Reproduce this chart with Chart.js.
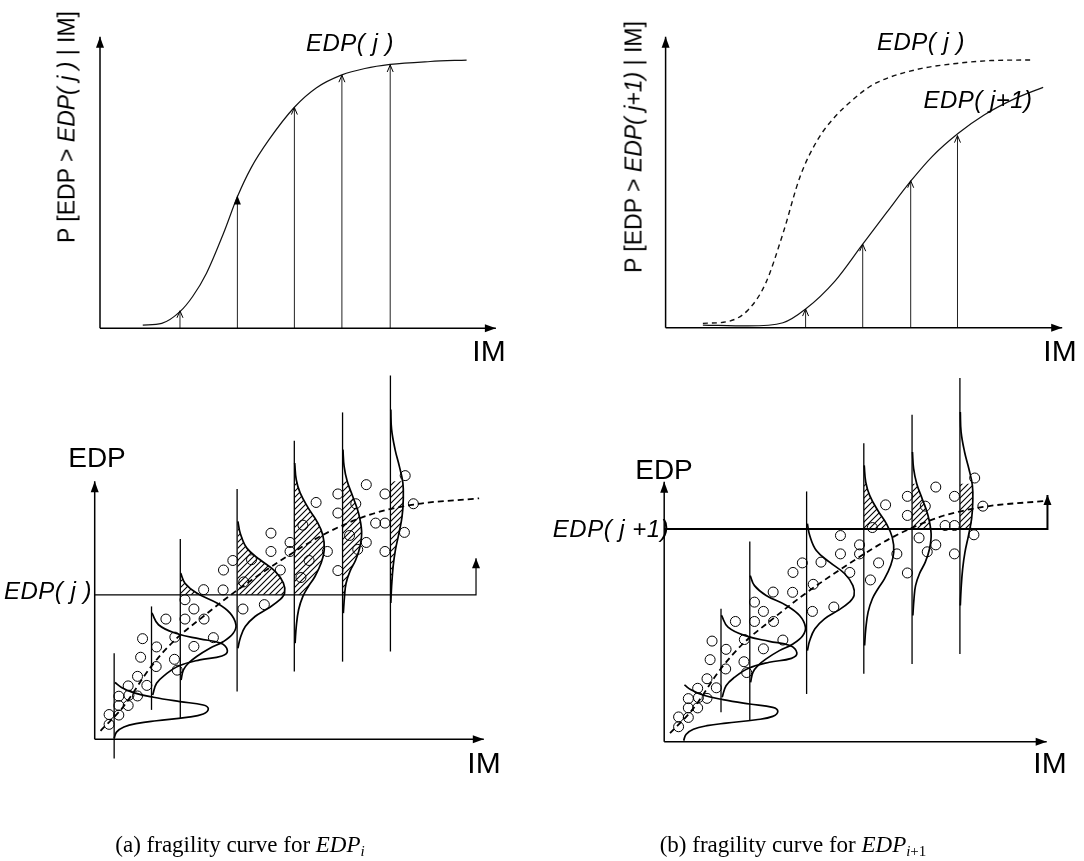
<!DOCTYPE html>
<html>
<head>
<meta charset="utf-8">
<script src="https://cdn.jsdelivr.net/npm/chart.js@4.4.1/dist/chart.umd.min.js"></script>
<style>
  body { margin: 0; width: 1084px; height: 861px; position: relative; overflow: hidden; background: #fff;
         font-family: "Liberation Sans", Arial, sans-serif; color: #000; }
  canvas.layer { position: absolute; left: 0; top: 0; }
  .lbl { position: absolute; white-space: nowrap; transform: translate(-50%, -50%); }
  .rot { transform: translate(-50%, -50%) rotate(-90deg); font-size: 23px; }
  .im { font-size: 30px; }
  .edp { font-size: 28px; }
  .it { font-style: italic; font-size: 24px; letter-spacing: 0.5px; }
  .cap { font-family: "Liberation Serif", "Times New Roman", serif; font-size: 23px; }
  .cap sub { font-size: 15px; vertical-align: -4px; }
</style>
</head>
<body>
<canvas id="topA" class="layer" width="1084" height="861"></canvas>
<canvas id="topB" class="layer" width="1084" height="861"></canvas>
<canvas id="botA" class="layer" width="1084" height="861"></canvas>
<canvas id="botB" class="layer" width="1084" height="861"></canvas>

<div class="lbl rot" style="left:67px;top:127px">P [EDP &gt; <i>EDP( j )</i> | IM]</div>
<div class="lbl it" style="left:350px;top:43px">EDP( j )</div>
<div class="lbl im" style="left:489px;top:351px">IM</div>

<div class="lbl rot" style="left:634px;top:147px">P [EDP &gt; <i>EDP( j+1)</i> | IM]</div>
<div class="lbl it" style="left:921px;top:42px">EDP( j )</div>
<div class="lbl it" style="left:978px;top:100px">EDP( j+1)</div>
<div class="lbl im" style="left:1060px;top:351px">IM</div>

<div class="lbl edp" style="left:97px;top:458px">EDP</div>
<div class="lbl it" style="left:48px;top:591px">EDP( j )</div>
<div class="lbl im" style="left:484px;top:763px">IM</div>

<div class="lbl edp" style="left:664px;top:470px">EDP</div>
<div class="lbl it" style="left:611px;top:529px">EDP( j +1)</div>
<div class="lbl im" style="left:1050px;top:763px">IM</div>

<div class="lbl cap" style="left:240px;top:846px">(a) fragility curve for <i>EDP</i><sub><i>i</i></sub></div>
<div class="lbl cap" style="left:793px;top:846px">(b) fragility curve for <i>EDP</i><sub><i>i</i>+1</sub></div>

<script>
// ---------- top row: fragility curves, P[EDP > edp | IM]
const imCurveA = [1.08, 1.56, 2.02, 2.34, 2.69, 3.12, 3.47, 3.82, 4.26, 4.91, 5.47, 6.11, 6.69, 7.33, 8.34, 9.26];
const pCurveA  = [0.011, 0.017, 0.057, 0.109, 0.189, 0.326, 0.451, 0.551, 0.645, 0.758, 0.825, 0.869, 0.891, 0.905, 0.915, 0.92];
const imArrowA = [2.02, 3.47, 4.91, 6.11, 7.33];
const pArrowA  = [0.06, 0.455, 0.757, 0.868, 0.903];

const imCurveBj  = [0.94, 1.56, 2.08, 2.52, 2.96, 3.39, 3.83, 4.27, 4.71, 5.14, 5.58, 6.46, 7.33, 8.21, 9.26];
const pCurveBj   = [0.015, 0.021, 0.061, 0.152, 0.324, 0.519, 0.645, 0.725, 0.782, 0.828, 0.857, 0.891, 0.908, 0.918, 0.92];
const imCurveBj1 = [0.94, 2.08, 2.96, 3.53, 4.27, 4.97, 5.58, 6.19, 6.72, 7.38, 8.03, 8.82, 9.52];
const pCurveBj1  = [0.009, 0.006, 0.017, 0.064, 0.16, 0.287, 0.397, 0.505, 0.588, 0.668, 0.731, 0.788, 0.826];
const imArrowB = [3.53, 4.97, 6.18, 7.36];
const pArrowB  = [0.064, 0.287, 0.505, 0.66];

// ---------- bottom row: EDP samples and conditional distributions (same in a and b)
const stripeIM   = [0.50, 1.46, 2.20, 3.66, 5.13, 6.37, 7.60];
const stripeLow  = [-0.74, 1.14, 0.82, 1.85, 2.63, 3.01, 3.40];
const stripeHigh = [3.34, 5.15, 7.76, 9.70, 11.57, 12.67, 14.10];

const pdf1 = [[0.50,0.04],[0.56,0.28],[0.75,0.48],[1.10,0.62],[1.59,0.72],[2.36,0.85],[2.79,0.98],[2.92,1.18],[2.79,1.33],[2.19,1.46],[1.51,1.63],[0.99,1.81],[0.69,2.01],[0.52,2.20]];
const pdf2 = [[1.47,4.90],[1.64,4.44],[2.08,4.11],[2.70,3.89],[3.23,3.73],[3.41,3.44],[3.27,3.23],[2.70,3.08],[2.17,2.85],[1.81,2.50],[1.59,2.17],[1.49,1.72]];
const pdf3 = [[2.21,6.44],[2.32,6.05],[2.62,5.67],[3.14,5.28],[3.48,4.89],[3.63,4.44],[3.56,4.11],[3.31,3.79],[2.96,3.53],[2.62,3.21],[2.41,2.95],[2.28,2.69],[2.22,2.30]];
const pdf4 = [[3.68,8.45],[3.74,7.99],[3.91,7.41],[4.25,6.96],[4.64,6.51],[4.85,6.05],[4.88,5.67],[4.76,5.41],[4.46,5.08],[4.12,4.76],[3.87,4.37],[3.74,3.92],[3.68,3.53]];
const pdf5 = [[5.14,10.71],[5.18,10.06],[5.28,9.55],[5.49,8.96],[5.71,8.45],[5.86,7.93],[5.90,7.35],[5.82,6.83],[5.66,6.31],[5.49,5.92],[5.35,5.54],[5.24,5.02],[5.18,4.37],[5.15,3.73]];
const pdf6 = [[6.38,11.23],[6.41,10.58],[6.49,10.00],[6.63,9.42],[6.78,8.77],[6.86,8.06],[6.82,7.48],[6.71,6.96],[6.56,6.51],[6.46,6.05],[6.42,5.54],[6.39,4.89]];
const pdf7 = [[7.61,12.78],[7.63,12.01],[7.72,11.23],[7.83,10.58],[7.92,9.94],[7.93,9.29],[7.90,8.64],[7.82,7.99],[7.73,7.35],[7.67,6.70],[7.63,5.92],[7.61,5.28]];

const sampleIM  = [0.37, 0.37, 0.62, 0.62, 0.86, 0.62, 0.88, 1.10, 0.86, 1.34, 1.10, 1.58, 1.18, 1.59, 1.23, 2.05, 2.06, 2.12, 2.55, 3.05,
                   1.83, 2.32, 2.81, 2.55, 2.32, 2.80, 3.30, 3.31, 3.55, 3.83, 4.03, 3.81, 4.36, 4.77, 4.53, 4.53, 5.02, 5.02, 5.35, 5.51,
                   5.30, 5.69, 5.98, 6.25, 6.25, 6.25, 6.71, 6.98, 6.98, 6.55, 6.76, 7.22, 7.46, 7.46, 7.46, 7.96, 7.98, 8.19];
const sampleEDP = [0.58, 0.96, 0.94, 1.31, 1.31, 1.67, 1.71, 1.68, 2.07, 2.09, 2.44, 2.82, 3.18, 3.58, 3.90, 3.10, 3.96, 2.68, 3.60, 3.94,
                   4.66, 4.66, 4.66, 5.05, 5.41, 5.80, 5.79, 6.56, 6.93, 6.10, 6.96, 5.05, 5.22, 6.56, 7.99, 7.28, 7.63, 7.28, 8.30, 6.93,
                   6.27, 9.18, 7.28, 9.51, 8.77, 6.54, 9.13, 9.87, 7.63, 7.90, 7.36, 8.38, 8.38, 9.51, 7.28, 8.02, 10.22, 9.13];

const medianIM  = [0.15, 0.74, 1.42, 2.02, 2.79, 3.50, 4.70, 5.90, 7.10, 8.20, 9.88];
const medianEDP = [0.33, 1.27, 2.76, 3.79, 4.76, 5.60, 6.85, 7.95, 8.72, 9.10, 9.34];

// thresholds and the part of each distribution above them
const edpJ = 5.6, edpJ1 = 8.24;
const hatchA = [
  [[2.20,5.6],[2.64,5.6],[2.55,5.75],[2.32,6.05],[2.22,6.35]],
  [[3.66,5.6],[4.87,5.6],[4.85,6.05],[4.64,6.51],[4.25,6.96],[3.91,7.41],[3.74,7.99],[3.68,8.45]],
  [[5.13,5.6],[5.37,5.6],[5.49,5.92],[5.66,6.31],[5.82,6.83],[5.90,7.35],[5.86,7.93],[5.71,8.45],[5.49,8.96],[5.28,9.55],[5.18,10.06],[5.14,10.71]],
  [[6.37,5.6],[6.42,5.6],[6.46,6.05],[6.56,6.51],[6.71,6.96],[6.82,7.48],[6.86,8.06],[6.78,8.77],[6.63,9.42],[6.49,10.00],[6.41,10.58],[6.38,11.23]],
  [[7.60,5.6],[7.63,5.6],[7.63,5.92],[7.67,6.70],[7.73,7.35],[7.82,7.99],[7.90,8.64],[7.93,9.29],[7.92,9.94],[7.83,10.58],[7.72,11.23],[7.63,12.01],[7.61,12.78]]
];
const hatchB = [
  [[5.13,8.24],[5.78,8.24],[5.71,8.45],[5.49,8.96],[5.28,9.55],[5.18,10.06],[5.14,10.71]],
  [[6.37,8.24],[6.85,8.24],[6.78,8.77],[6.63,9.42],[6.49,10.00],[6.41,10.58],[6.38,11.23]],
  [[7.60,8.24],[7.91,8.24],[7.90,8.64],[7.93,9.29],[7.92,9.94],[7.83,10.58],[7.72,11.23],[7.63,12.01],[7.61,12.78]]
];

const W = 1084, H = 861;
const xy = (xs, ys) => xs.map((x, i) => ({ x, y: ys[i] }));
const pairs = arr => arr.map(p => ({ x: p[0], y: p[1] }));

function hatchPattern() {
  const c = document.createElement('canvas');
  c.width = 6; c.height = 6;
  const g = c.getContext('2d');
  g.strokeStyle = '#000'; g.lineWidth = 1.1;
  g.beginPath();
  g.moveTo(0, 6); g.lineTo(6, 0);
  g.moveTo(-1, 1); g.lineTo(1, -1);
  g.moveTo(5, 7); g.lineTo(7, 5);
  g.stroke();
  return g.createPattern(c, 'repeat');
}
const hatch = hatchPattern();

function line(data, o) {
  return Object.assign({ data, showLine: true, pointRadius: 0, borderColor: '#000', borderWidth: 1,
                         tension: 0, fill: false, clip: false }, o || {});
}

// arrow heads at the end of datasets that ask for one
const arrowHeads = {
  id: 'arrowHeads',
  afterDatasetsDraw(chart) {
    const ctx = chart.ctx;
    chart.data.datasets.forEach((ds, i) => {
      if (!ds.head) return;
      const pts = chart.getDatasetMeta(i).data;
      const a = pts[pts.length - 2], b = pts[pts.length - 1];
      const ang = Math.atan2(b.y - a.y, b.x - a.x);
      ctx.save();
      ctx.translate(b.x, b.y);
      ctx.rotate(ang);
      ctx.beginPath();
      ctx.moveTo(0, 0);
      ctx.lineTo(-ds.head.len, -ds.head.wid);
      if (ds.head.open) {
        ctx.moveTo(0, 0);
        ctx.lineTo(-ds.head.len, ds.head.wid);
        ctx.lineWidth = 1; ctx.strokeStyle = '#000'; ctx.stroke();
      } else {
        ctx.lineTo(-ds.head.len, ds.head.wid);
        ctx.closePath(); ctx.fillStyle = '#000'; ctx.fill();
      }
      ctx.restore();
    });
  }
};

function makeChart(id, area, xr, yr, datasets) {
  return new Chart(document.getElementById(id), {
    type: 'scatter',
    data: { datasets },
    options: {
      responsive: false, animation: false, devicePixelRatio: 1, events: [],
      layout: { padding: { left: area[0], top: area[1], right: W - area[2], bottom: H - area[3] } },
      scales: {
        x: { type: 'linear', display: false, min: xr[0], max: xr[1] },
        y: { type: 'linear', display: false, min: yr[0], max: yr[1] }
      },
      plugins: { legend: { display: false }, tooltip: { enabled: false } }
    },
    plugins: [arrowHeads]
  });
}

const axisHead = { len: 11, wid: 4 };

function axes(xEnd, yEnd) {
  return [
    line([{ x: 0, y: 0 }, { x: xEnd, y: 0 }], { borderWidth: 1.5, head: axisHead }),
    line([{ x: 0, y: 0 }, { x: 0, y: yEnd }], { borderWidth: 1.5, head: axisHead })
  ];
}

function upArrows(ims, ps, filled) {
  return ims.map((x, i) => line([{ x, y: 0 }, { x, y: ps[i] }],
    { borderColor: '#222', borderWidth: 1,
      head: i === filled ? { len: 9, wid: 3.5 } : { len: 7, wid: 3, open: true } }));
}

// (a) top
makeChart('topA', [100, 36.7, 495.9, 328.3], [0, 10], [0, 1], [
  ...axes(10, 1),
  line(xy(imCurveA, pCurveA), { borderColor: '#111', borderWidth: 1.2, cubicInterpolationMode: 'monotone' }),
  ...upArrows(imArrowA, pArrowA, 1)
]);

// (b) top
makeChart('topB', [665.6, 36.7, 1062.2, 327.7], [0, 10], [0, 1], [
  ...axes(10, 1),
  line(xy(imCurveBj, pCurveBj), { borderColor: '#111', borderWidth: 1.4, borderDash: [5, 4], cubicInterpolationMode: 'monotone' }),
  line(xy(imCurveBj1, pCurveBj1), { borderColor: '#111', borderWidth: 1.2, cubicInterpolationMode: 'monotone' }),
  ...upArrows(imArrowB, pArrowB, -1)
]);

function bottomSets(xEnd, yEnd, thr, thrEnd, thrTop, thrWidth, hatches, firstStripe) {
  const sets = [...axes(xEnd, yEnd)];
  sets.push(line([{ x: 0, y: thr }, { x: thrEnd, y: thr }, { x: thrEnd, y: thrTop }],
    { borderWidth: thrWidth, head: { len: 10, wid: 4 } }));
  stripeIM.forEach((x, i) => {
    if (i < firstStripe) return;
    sets.push(line([{ x, y: stripeLow[i] }, { x, y: stripeHigh[i] }], { borderWidth: 1.3 }));
  });
  [pdf1, pdf2, pdf3, pdf4, pdf5, pdf6, pdf7].forEach(p => {
    sets.push(line(pairs(p), { borderWidth: 1.7, tension: 0.4 }));
  });
  sets.push(line(xy(medianIM, medianEDP), { borderWidth: 1.8, borderDash: [6, 4], cubicInterpolationMode: 'monotone' }));
  sets.push({ data: xy(sampleIM, sampleEDP), showLine: false, pointRadius: 5, pointBorderWidth: 1,
              pointBorderColor: '#000', pointBackgroundColor: 'rgba(0,0,0,0)', clip: false });
  hatches.forEach(h => {
    sets.push(line(pairs(h), { borderWidth: 0, fill: 'shape', backgroundColor: hatch }));
  });
  return sets;
}

// (a) bottom
makeChart('botA', [94.7, 481.3, 483.8, 739.3], [0, 10], [0, 10],
  bottomSets(10, 10, edpJ, 9.80, 7.02, 1.2, hatchA, 0));

// (b) bottom
makeChart('botB', [664.2, 483.7, 1053.3, 741.7], [0, 10], [0, 10],
  bottomSets(9.83, 10.08, edpJ1, 9.85, 9.56, 2, hatchB, 1));
</script>
</body>
</html>
